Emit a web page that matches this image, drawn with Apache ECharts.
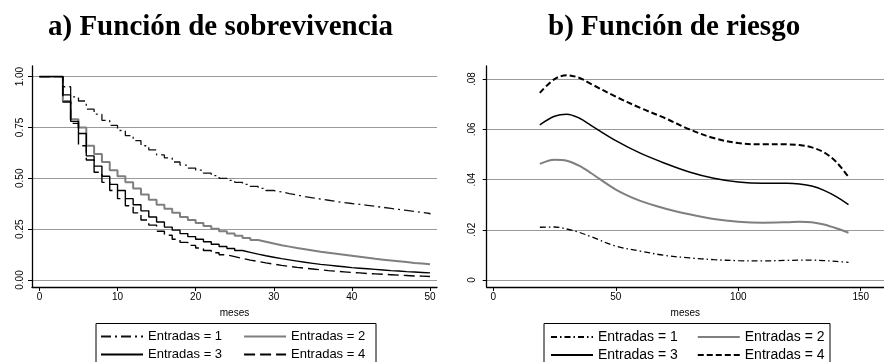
<!DOCTYPE html>
<html>
<head>
<meta charset="utf-8">
<script src="https://cdn.jsdelivr.net/npm/echarts@6/dist/echarts.min.js"></script>
<style>
html,body{margin:0;padding:0;background:#fff;}
#wrap{position:relative;width:884px;height:362px;overflow:hidden;}
#c1{position:absolute;left:0;top:0;width:442px;height:362px;}
#c2{position:absolute;left:442px;top:0;width:442px;height:362px;}
</style>
</head>
<body>
<div id="wrap"><div id="c1"></div><div id="c2"></div></div>
<script>
// ---------- Data ----------
const seriesNames = ['Entradas = 1', 'Entradas = 2', 'Entradas = 3', 'Entradas = 4'];
const titleA = 'a) Función de sobrevivencia';
const titleB = 'b) Función de riesgo';
const xAxisName = 'meses';

// Survival (Kaplan-Meier) : months 0..50
const survMonths = [0,1,2,3,4,5,6,7,8,9,10,11,12,13,14,15,16,17,18,19,20,21,22,23,24,25,26,27,28,29,30,31,32,33,34,35,36,37,38,39,40,41,42,43,44,45,46,47,48,49,50];
const surv1 = [1,1,1,0.95,0.90,0.88,0.84,0.815,0.785,0.76,0.735,0.71,0.685,0.66,0.64,0.615,0.60,0.58,0.565,0.55,0.54,0.525,0.513,0.50,0.49,0.48,0.47,0.46,0.45,0.44,0.433,0.425,0.418,0.41,0.404,0.398,0.392,0.386,0.381,0.376,0.372,0.367,0.362,0.357,0.352,0.347,0.342,0.337,0.332,0.327,0.322];
const surv2 = [1,1,1,0.88,0.79,0.75,0.66,0.62,0.58,0.54,0.51,0.48,0.45,0.42,0.395,0.37,0.35,0.33,0.31,0.295,0.28,0.265,0.252,0.24,0.228,0.217,0.207,0.197,0.188,0.179,0.171,0.164,0.157,0.151,0.145,0.139,0.134,0.129,0.124,0.119,0.114,0.109,0.104,0.100,0.096,0.092,0.088,0.084,0.081,0.078,0.075];
const surv3 = [1,1,1,0.91,0.78,0.72,0.61,0.56,0.51,0.47,0.44,0.40,0.37,0.34,0.31,0.285,0.26,0.245,0.228,0.213,0.20,0.188,0.176,0.165,0.155,0.145,0.136,0.127,0.119,0.112,0.105,0.099,0.093,0.087,0.082,0.077,0.073,0.069,0.065,0.061,0.058,0.055,0.052,0.049,0.046,0.044,0.041,0.039,0.037,0.035,0.033];
const surv4 = [1,1,1,0.875,0.77,0.66,0.59,0.53,0.48,0.44,0.40,0.365,0.33,0.295,0.27,0.24,0.22,0.20,0.185,0.17,0.157,0.145,0.134,0.124,0.115,0.106,0.098,0.091,0.084,0.078,0.072,0.067,0.062,0.058,0.054,0.050,0.046,0.043,0.040,0.037,0.035,0.032,0.030,0.028,0.026,0.024,0.022,0.020,0.019,0.017,0.016];
const survXTicks = [0,10,20,30,40,50];
const survYTicks = [0,0.25,0.5,0.75,1];
const survYTickLabels = ['0.00','0.25','0.50','0.75','1.00'];

// Hazard (smoothed) : months
const hazMonths = [19,25,30,35,40,50,60,70,80,90,100,110,120,125,130,135,140,145];
const haz1 = [0.0210,0.0211,0.0203,0.0190,0.0172,0.0135,0.0115,0.0098,0.0088,0.0081,0.0077,0.0076,0.0078,0.0079,0.0079,0.0077,0.0074,0.0070];
const haz2 = [0.0462,0.0479,0.0475,0.0455,0.0425,0.0360,0.0315,0.0285,0.0262,0.0243,0.0232,0.0228,0.0230,0.0232,0.0230,0.0221,0.0206,0.0188];
const haz3 = [0.0618,0.0652,0.0660,0.0645,0.0615,0.0555,0.0505,0.0465,0.0430,0.0405,0.0390,0.0385,0.0385,0.0382,0.0374,0.0357,0.0332,0.0300];
const haz4 = [0.0745,0.0800,0.0815,0.0805,0.0780,0.0730,0.0685,0.0645,0.0600,0.0565,0.0545,0.0540,0.0540,0.0537,0.0528,0.0508,0.0470,0.0410];
const hazXTicks = [0,50,100,150];
const hazYTicks = [0,0.02,0.04,0.06,0.08];
const hazYTickLabels = ['0','.02','.04','.06','.08'];

// ---------- Helpers ----------
const SANS = 'Liberation Sans, Arial, Helvetica, sans-serif';
function pairs(xs, ys){ return xs.map((x,i)=>[x, ys[i]]); }
function labelFor(ticks, labels){ return v => { const i = ticks.findIndex(t => Math.abs(t - v) < 1e-9); return i >= 0 ? labels[i] : ''; }; }

function baseAxes(cfg){
  return {
    xAxis: {
      type: 'value', min: cfg.xMin, max: cfg.xMax,
      name: xAxisName, nameLocation: 'middle', nameGap: 21,
      nameTextStyle: {fontFamily: SANS, fontSize: 10, color: '#000'},
      axisLine: {show: true, onZero: false, lineStyle: {color: '#000', width: 1.3}},
      axisTick: {show: true, length: 4, customValues: cfg.xTicks, lineStyle: {color: '#000', width: 1}},
      axisLabel: {customValues: cfg.xTicks, margin: 5, fontFamily: SANS, fontSize: 10, color: '#000'},
      splitLine: {show: false}
    },
    yAxis: {
      type: 'value', min: cfg.yMin, max: cfg.yMax,
      axisLine: {show: true, onZero: false, lineStyle: {color: '#000', width: 1.3}},
      axisTick: {show: true, length: 4, customValues: cfg.yTicks, lineStyle: {color: '#000', width: 1}},
      axisLabel: {customValues: cfg.yTicks, rotate: 90, margin: 7, fontFamily: SANS, fontSize: 10, color: '#000',
                  formatter: labelFor(cfg.yTicks, cfg.yLabels)},
      splitLine: {show: true, lineStyle: {color: '#9a9a9a', width: 1.2}}
    }
  };
}

function legends(left, fontSize, gap){
  const common = {left: left, itemWidth: 42, itemHeight: 14, itemGap: gap, padding: 0, selectedMode: false,
                  itemStyle: {opacity: 0, borderWidth: 0},
                  textStyle: {fontFamily: SANS, fontSize: fontSize, color: '#000'}};
  return [
    Object.assign({data: [seriesNames[0], seriesNames[1]], top: 330}, common),
    Object.assign({data: [seriesNames[2], seriesNames[3]], top: 348}, common)
  ];
}

const TITLE_STYLE = {fontFamily: 'Liberation Serif, Times New Roman, serif', fontWeight: 'bold', fontSize: 29, color: '#000'};

// ---------- Chart a ----------
const chartA = echarts.init(document.getElementById('c1'), null, {renderer: 'canvas'});
const axA = baseAxes({xMin: -0.95, xMax: 50.9, xTicks: survXTicks, yMin: -0.0344, yMax: 1.052, yTicks: survYTicks, yLabels: survYTickLabels});
chartA.setOption({
  animation: false,
  title: {text: titleA, left: 48, top: 13, padding: 0, textStyle: TITLE_STYLE},
  grid: {left: 32, right: 5, top: 66, bottom: 75, containLabel: false},
  xAxis: axA.xAxis, yAxis: axA.yAxis,
  legend: legends(100, 13, 21),
  graphic: [{type: 'rect', shape: {x: 96, y: 323.5, width: 280, height: 60}, style: {fill: 'none', stroke: '#000', lineWidth: 1}, silent: true}],
  series: [
    {name: seriesNames[1], type: 'line', step: 'end', symbol: 'none', data: pairs(survMonths, surv2), lineStyle: {color: '#7f7f7f', width: 2}, itemStyle: {color: '#7f7f7f'}},
    {name: seriesNames[0], type: 'line', step: 'end', symbol: 'none', data: pairs(survMonths, surv1), lineStyle: {color: '#111', width: 1.3, type: [10,4,2,4]}, itemStyle: {color: '#111'}},
    {name: seriesNames[2], type: 'line', step: 'end', symbol: 'none', data: pairs(survMonths, surv3), lineStyle: {color: '#000', width: 1.4}, itemStyle: {color: '#000'}},
    {name: seriesNames[3], type: 'line', step: 'end', symbol: 'none', data: pairs(survMonths, surv4), lineStyle: {color: '#000', width: 1.4, type: [11,5]}, itemStyle: {color: '#000'}}
  ]
});

// ---------- Chart b ----------
const chartB = echarts.init(document.getElementById('c2'), null, {renderer: 'canvas'});
const axB = baseAxes({xMin: -2.7, xMax: 159.5, xTicks: hazXTicks, yMin: -0.00279, yMax: 0.0852, yTicks: hazYTicks, yLabels: hazYTickLabels});
axB.yAxis.axisLabel.margin = 9;
chartB.setOption({
  animation: false,
  title: {text: titleB, left: 106, top: 13, padding: 0, textStyle: TITLE_STYLE},
  grid: {left: 44.7, right: 0, top: 66, bottom: 75, containLabel: false},
  xAxis: axB.xAxis, yAxis: axB.yAxis,
  legend: legends(108, 14, 19),
  graphic: [{type: 'rect', shape: {x: 102, y: 323.5, width: 286, height: 60}, style: {fill: 'none', stroke: '#000', lineWidth: 1}, silent: true}],
  series: [
    {name: seriesNames[0], type: 'line', smooth: 0.35, symbol: 'none', data: pairs(hazMonths, haz1), lineStyle: {color: '#000', width: 1.3, type: [6,3,1.5,3]}, itemStyle: {color: '#000'}},
    {name: seriesNames[1], type: 'line', smooth: 0.35, symbol: 'none', data: pairs(hazMonths, haz2), lineStyle: {color: '#7f7f7f', width: 2}, itemStyle: {color: '#7f7f7f'}},
    {name: seriesNames[2], type: 'line', smooth: 0.35, symbol: 'none', data: pairs(hazMonths, haz3), lineStyle: {color: '#000', width: 1.5}, itemStyle: {color: '#000'}},
    {name: seriesNames[3], type: 'line', smooth: 0.35, symbol: 'none', data: pairs(hazMonths, haz4), lineStyle: {color: '#000', width: 2, type: [6,3]}, itemStyle: {color: '#000'}}
  ]
});
</script>
</body>
</html>
